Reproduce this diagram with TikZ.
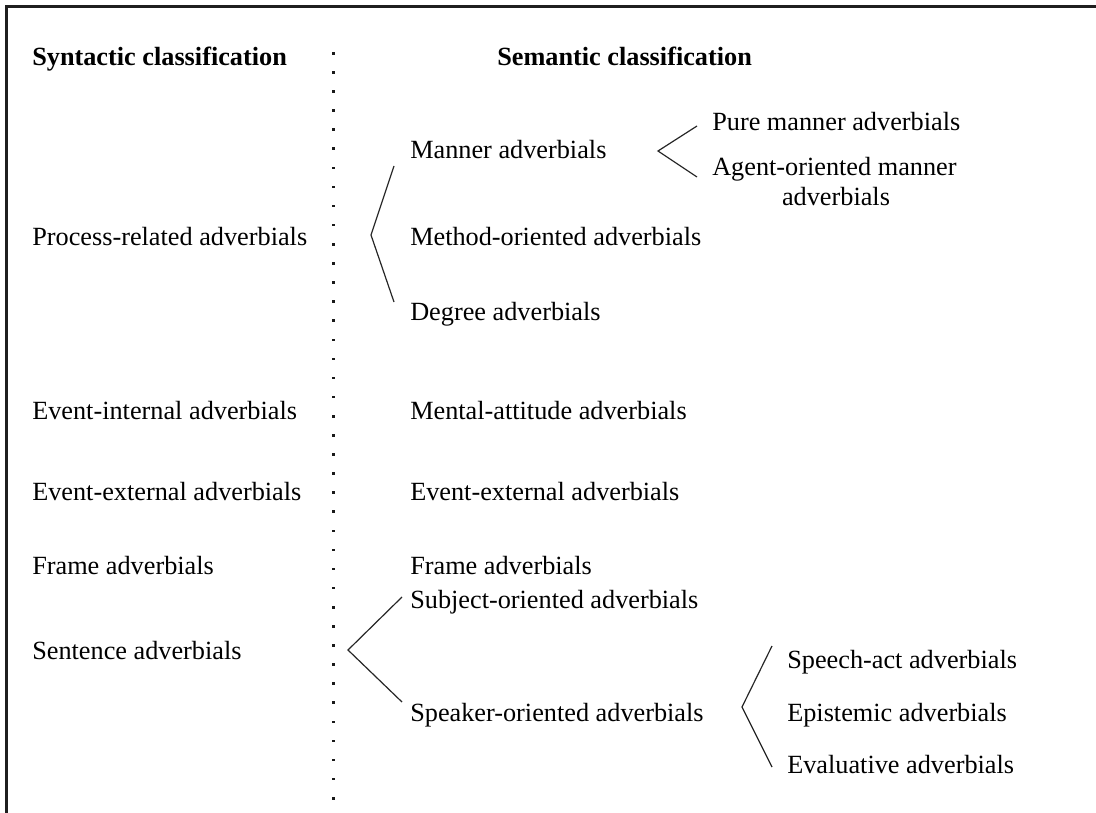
\documentclass[tikz,border=0pt]{standalone}
\usepackage{fontspec}
\setmainfont{Liberation Serif}
\begin{document}
\begin{tikzpicture}[x=0.75pt,y=-0.75pt,
  lbl/.style={anchor=base west,inner sep=0pt,font=\fontsize{19.7pt}{23.5pt}\selectfont},
  head/.style={lbl,font=\fontsize{19.7pt}{23.5pt}\selectfont\bfseries},
  branch/.style={line width=0.9pt,black!85},
  frameline/.style={line width=1.6pt,black!88},
  dot/.style={fill=black!90}]
\useasboundingbox (0,0) rectangle (1096,813);

% frame edges
\draw[frameline] (6.5,813) -- (6.5,6.5) -- (1096,6.5);

% dotted separator between the two columns
\foreach \i in {0,...,39}{
  \fill[dot] (331.5,{52+\i*19.1}) rectangle ++(3,2.6);
}

% column headings
\node[head] (synhead) at (32,66) {Syntactic classification};
\node[head] (semhead) at (497,66) {Semantic classification};

% syntactic classes
\node[lbl] (proc)  at (32,245) {Process-related adverbials};
\node[lbl] (evint) at (32,419) {Event-internal adverbials};
\node[lbl] (evext) at (32,500) {Event-external adverbials};
\node[lbl] (frame) at (32,574) {Frame adverbials};
\node[lbl] (sent)  at (32,659) {Sentence adverbials};

% semantic classes
\node[lbl] (manner)  at (410,159) {Manner adverbials};
\node[lbl] (method)  at (410,245) {Method-oriented adverbials};
\node[lbl] (degree)  at (410,320) {Degree adverbials};
\node[lbl] (mental)  at (410,419) {Mental-attitude adverbials};
\node[lbl] (evext2)  at (410,500) {Event-external adverbials};
\node[lbl] (frame2)  at (410,574) {Frame adverbials};
\node[lbl] (subj)    at (410,608) {Subject-oriented adverbials};
\node[lbl] (speaker) at (410,721) {Speaker-oriented adverbials};

% subclasses of manner adverbials
\node[lbl] (pure)   at (712,131) {Pure manner adverbials};
\node[lbl] (agent)  at (712,176) {Agent-oriented manner};
\node[lbl,anchor=base] (agent2) at (836,205) {adverbials};

% subclasses of speaker-oriented adverbials
\node[lbl] (speech) at (787,668) {Speech-act adverbials};
\node[lbl] (epist)  at (787,721) {Epistemic adverbials};
\node[lbl] (evalu)  at (787,773) {Evaluative adverbials};

% branching points
\coordinate (pA) at (394,166);
\coordinate (pV) at (371,235);
\coordinate (pB) at (394,302);
\draw[branch] (pA) -- (pV) -- (pB);

\coordinate (mA) at (697,126);
\coordinate (mV) at (658,151);
\coordinate (mB) at (697,177);
\draw[branch] (mA) -- (mV) -- (mB);

\coordinate (sA) at (402,597);
\coordinate (sV) at (348,650);
\coordinate (sB) at (402,702);
\draw[branch] (sA) -- (sV) -- (sB);

\coordinate (kA) at (772,646);
\coordinate (kV) at (742,707);
\coordinate (kB) at (772,767);
\draw[branch] (kA) -- (kV) -- (kB);
\end{tikzpicture}
\end{document}
